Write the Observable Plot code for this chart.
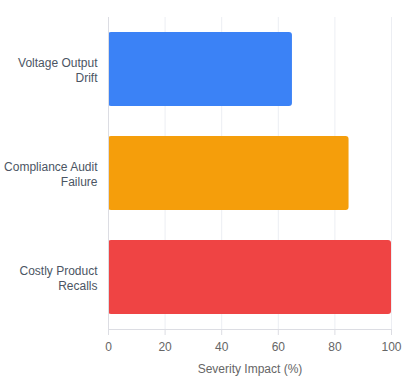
<!DOCTYPE html>
<html><head><meta charset="utf-8">
<script src="https://cdn.jsdelivr.net/npm/d3@7"></script>
<script src="https://cdn.jsdelivr.net/npm/@observablehq/plot@0.6"></script>
<style>body{margin:0;background:#fff;font-family:"Liberation Sans",Arial,sans-serif}</style>
</head><body><div id="chart"></div>
<script>
const categories = ["Voltage Output Drift", "Compliance Audit Failure", "Costly Product Recalls"];
const labels = ["Voltage Output\nDrift", "Compliance Audit\nFailure", "Costly Product\nRecalls"];
const values = [65, 85, 100];
const colors = ["#3b82f6", "#f59e0b", "#ef4444"];
const xTicks = [0, 20, 40, 60, 80, 100];

const data = categories.map((c, i) => ({category: c, value: values[i], color: colors[i]}));
const labelOf = new Map(categories.map((c, i) => [c, labels[i]]));

const chart = Plot.plot({
  width: 404, height: 380,
  marginLeft: 108, marginRight: 13, marginTop: 17, marginBottom: 51,
  style: {fontFamily: '"Liberation Sans", Arial, sans-serif', fontSize: "12px", background: "#fff", overflow: "visible"},
  x: {domain: [0, 100]},
  y: {domain: categories, paddingInner: 0.29, paddingOuter: 0.145},
  marks: [
    Plot.gridX(xTicks, {stroke: "#eceef3", strokeOpacity: 1}),
    Plot.barX(data, {y: "category", x: "value", fill: "color", rx: 3}),
    Plot.ruleX([0], {stroke: "#dcdde3"}),
    Plot.frame({anchor: "bottom", stroke: "#dcdde3"}),
    Plot.axisX(xTicks, {tickSize: 6, stroke: "#dcdde3", tickPadding: 7, fill: "#666", fontSize: 12,
      label: "Severity Impact (%)", labelAnchor: "center", labelArrow: "none", labelOffset: 43}),
    Plot.axisY({tickSize: 0, tickPadding: 11, fill: "#4b5563", fontSize: 12, lineHeight: 1.25,
      tickFormat: d => labelOf.get(d), label: null})
  ]
});
document.getElementById("chart").appendChild(chart);
</script></body></html>
